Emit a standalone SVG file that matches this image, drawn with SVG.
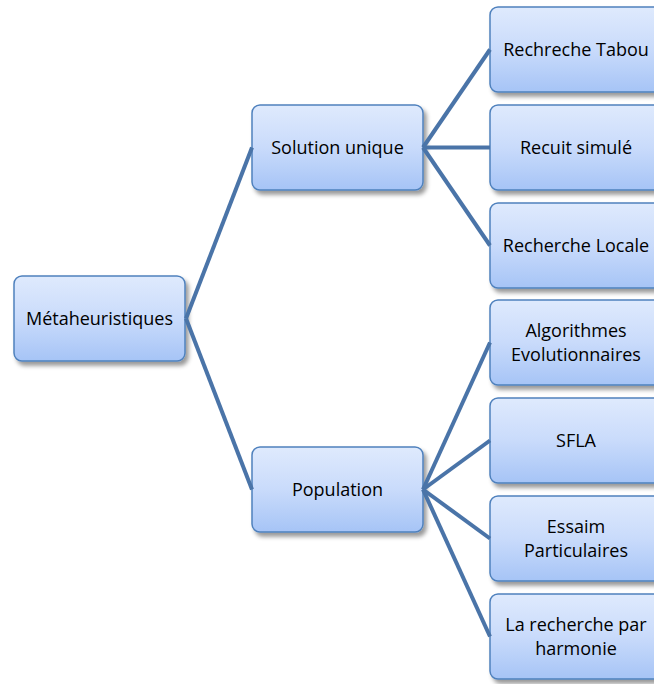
<svg xmlns="http://www.w3.org/2000/svg" width="654" height="684" viewBox="0 0 654 684">
  <defs>
    <linearGradient id="boxFill" x1="0" y1="0" x2="0" y2="1">
      <stop offset="0" stop-color="#dfeafd"/>
      <stop offset="0.5" stop-color="#c9dbfb"/>
      <stop offset="1" stop-color="#a6c4f6"/>
    </linearGradient>
    <filter id="shadow" x="-10%" y="-10%" width="130%" height="140%">
      <feDropShadow dx="3" dy="4" stdDeviation="2" flood-color="#000" flood-opacity="0.4"/>
    </filter>
  </defs>
  <style>
    .box { fill: url(#boxFill); stroke: #4f81bd; stroke-width: 1.5; filter: url(#shadow); }
    .lbl { font-family: "Open Sans", "Liberation Sans", sans-serif; font-size: 18px; fill: #000; text-anchor: middle; }
    .edge { stroke: #4a74a8; stroke-width: 4; fill: none; stroke-linecap: butt; }
  </style>
  <rect width="654" height="684" fill="#ffffff"/>

  <g id="nodes">
    <g id="metaheuristiques">
      <rect class="box" x="14" y="276" width="171" height="85" rx="8"/>
      <text class="lbl" x="99.5" y="325">Métaheuristiques</text>
    </g>
    <g id="solution-unique">
      <rect class="box" x="252" y="105" width="171" height="85" rx="8"/>
      <text class="lbl" x="337.5" y="154">Solution unique</text>
    </g>
    <g id="population">
      <rect class="box" x="252" y="447" width="171" height="85" rx="8"/>
      <text class="lbl" x="337.5" y="496">Population</text>
    </g>
    <g id="recherche-tabou">
      <rect class="box" x="490" y="7" width="172" height="85" rx="8"/>
      <text class="lbl" x="576" y="56">Rechreche Tabou</text>
    </g>
    <g id="recuit-simule">
      <rect class="box" x="490" y="105" width="172" height="85" rx="8"/>
      <text class="lbl" x="576" y="154">Recuit simulé</text>
    </g>
    <g id="recherche-locale">
      <rect class="box" x="490" y="203" width="172" height="85" rx="8"/>
      <text class="lbl" x="576" y="252">Recherche Locale</text>
    </g>
    <g id="algorithmes-evolutionnaires">
      <rect class="box" x="490" y="300" width="172" height="85" rx="8"/>
      <text class="lbl" x="576" y="337">Algorithmes</text>
      <text class="lbl" x="576" y="361">Evolutionnaires</text>
    </g>
    <g id="sfla">
      <rect class="box" x="490" y="398" width="172" height="85" rx="8"/>
      <text class="lbl" x="576" y="447">SFLA</text>
    </g>
    <g id="essaim-particulaires">
      <rect class="box" x="490" y="496" width="172" height="85" rx="8"/>
      <text class="lbl" x="576" y="533">Essaim</text>
      <text class="lbl" x="576" y="557">Particulaires</text>
    </g>
    <g id="recherche-harmonie">
      <rect class="box" x="490" y="594" width="172" height="85" rx="8"/>
      <text class="lbl" x="576" y="631">La recherche par</text>
      <text class="lbl" x="576" y="655">harmonie</text>
    </g>
  </g>

  <g id="connectors">
    <line class="edge" x1="186" y1="318.5" x2="252" y2="147.5"/>
    <line class="edge" x1="186" y1="318.5" x2="252" y2="489.5"/>
    <line class="edge" x1="423" y1="147.5" x2="490" y2="49.5"/>
    <line class="edge" x1="423" y1="147.5" x2="490" y2="147.5"/>
    <line class="edge" x1="423" y1="147.5" x2="490" y2="245.5"/>
    <line class="edge" x1="423" y1="489.5" x2="490" y2="342.5"/>
    <line class="edge" x1="423" y1="489.5" x2="490" y2="440.5"/>
    <line class="edge" x1="423" y1="489.5" x2="490" y2="538.5"/>
    <line class="edge" x1="423" y1="489.5" x2="490" y2="636.5"/>
  </g>
</svg>
